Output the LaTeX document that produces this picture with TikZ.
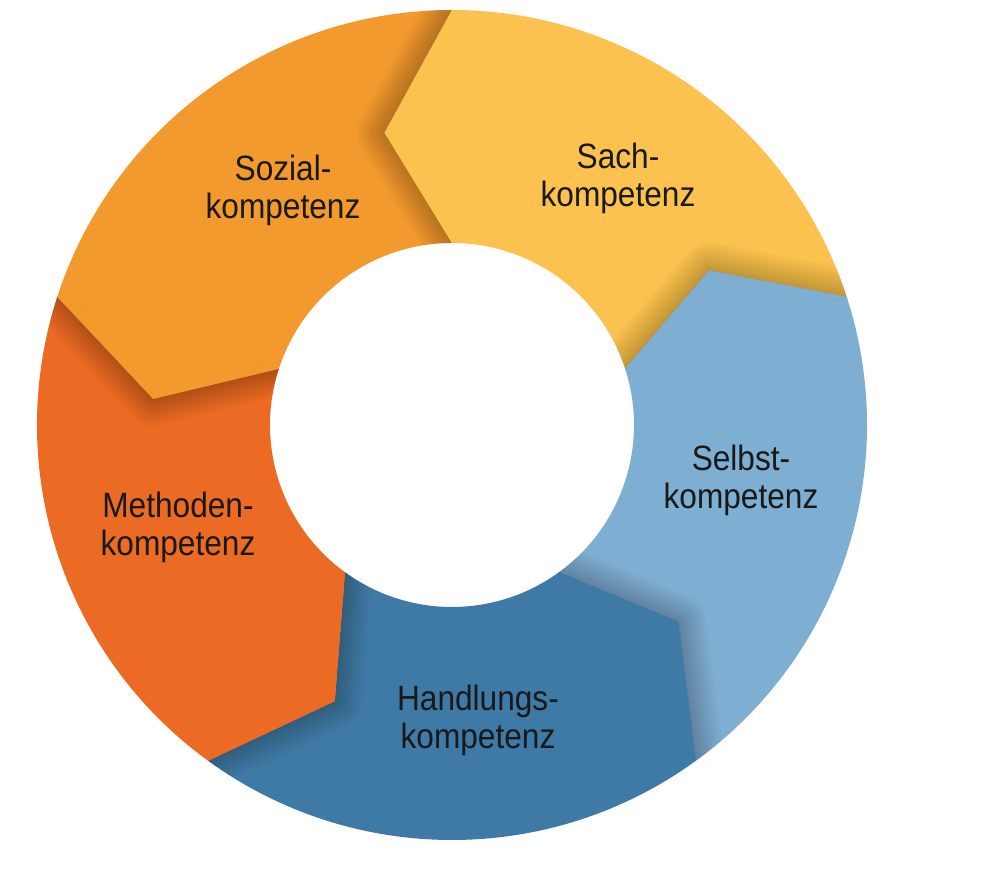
\documentclass[tikz,border=0pt]{standalone}
\usepackage{fontspec}
\setmainfont{Liberation Sans}[FakeStretch=0.9]
\definecolor{sozialc}{HTML}{F29A2E}
\definecolor{sachc}{HTML}{FBC24F}
\definecolor{selbstc}{HTML}{7FAED3}
\definecolor{handlungc}{HTML}{3F7AA7}
\definecolor{methodec}{HTML}{EC6B24}
\begin{document}
\begin{tikzpicture}[
  ktext/.style={align=center,font=\fontsize{10}{10.8}\selectfont,text=black!90},
  dropline/.style={black,opacity=0.016,line join=round}
]
\useasboundingbox (-4.52,-4.44) rectangle (5.40,4.25);

% ring pieces, tip at the counterclockwise end
\foreach \s/\col in {90/sachc,18/selbstc,-54/handlungc,-126/methodec,162/sozialc}{
  \fill[\col] (\s:4.15) -- (\s+13:3) -- (\s:1.82)
    arc[start angle=\s,end angle=\s-72,radius=1.82] -- (\s-59:3) -- (\s-72:4.15)
    arc[start angle=\s-72,end angle=\s,radius=4.15] -- cycle;
}

% soft shadow of each tip on its neighbour
\foreach \s/\col in {90/sachc,18/selbstc,-54/handlungc,-126/methodec,162/sozialc}{
  \begin{scope}
    \clip (\s:4.15) arc[start angle=\s,end angle=\s+40,radius=4.15]
      -- (\s+40:1.82) arc[start angle=\s+40,end angle=\s,radius=1.82] -- cycle;
    \foreach \w in {0.04,0.08,...,0.6}
      \draw[dropline,line width=\w cm] (\s:4.15) -- (\s+13:3) -- (\s:1.82);
  \end{scope}
  \fill[\col] (\s:4.15) -- (\s+13:3) -- (\s:1.82) -- cycle;
}

\node[ktext] (sozial) at (-1.69,2.35) {Sozial-\\kompetenz};
\node[ktext] (sach) at (1.66,2.47) {Sach-\\kompetenz};
\node[ktext] (selbst) at (2.89,-0.55) {Selbst-\\kompetenz};
\node[ktext] (methode) at (-2.74,-1.02) {Methoden-\\kompetenz};
\node[ktext] (handlung) at (0.26,-2.95) {Handlungs-\\kompetenz};

\end{tikzpicture}
\end{document}
